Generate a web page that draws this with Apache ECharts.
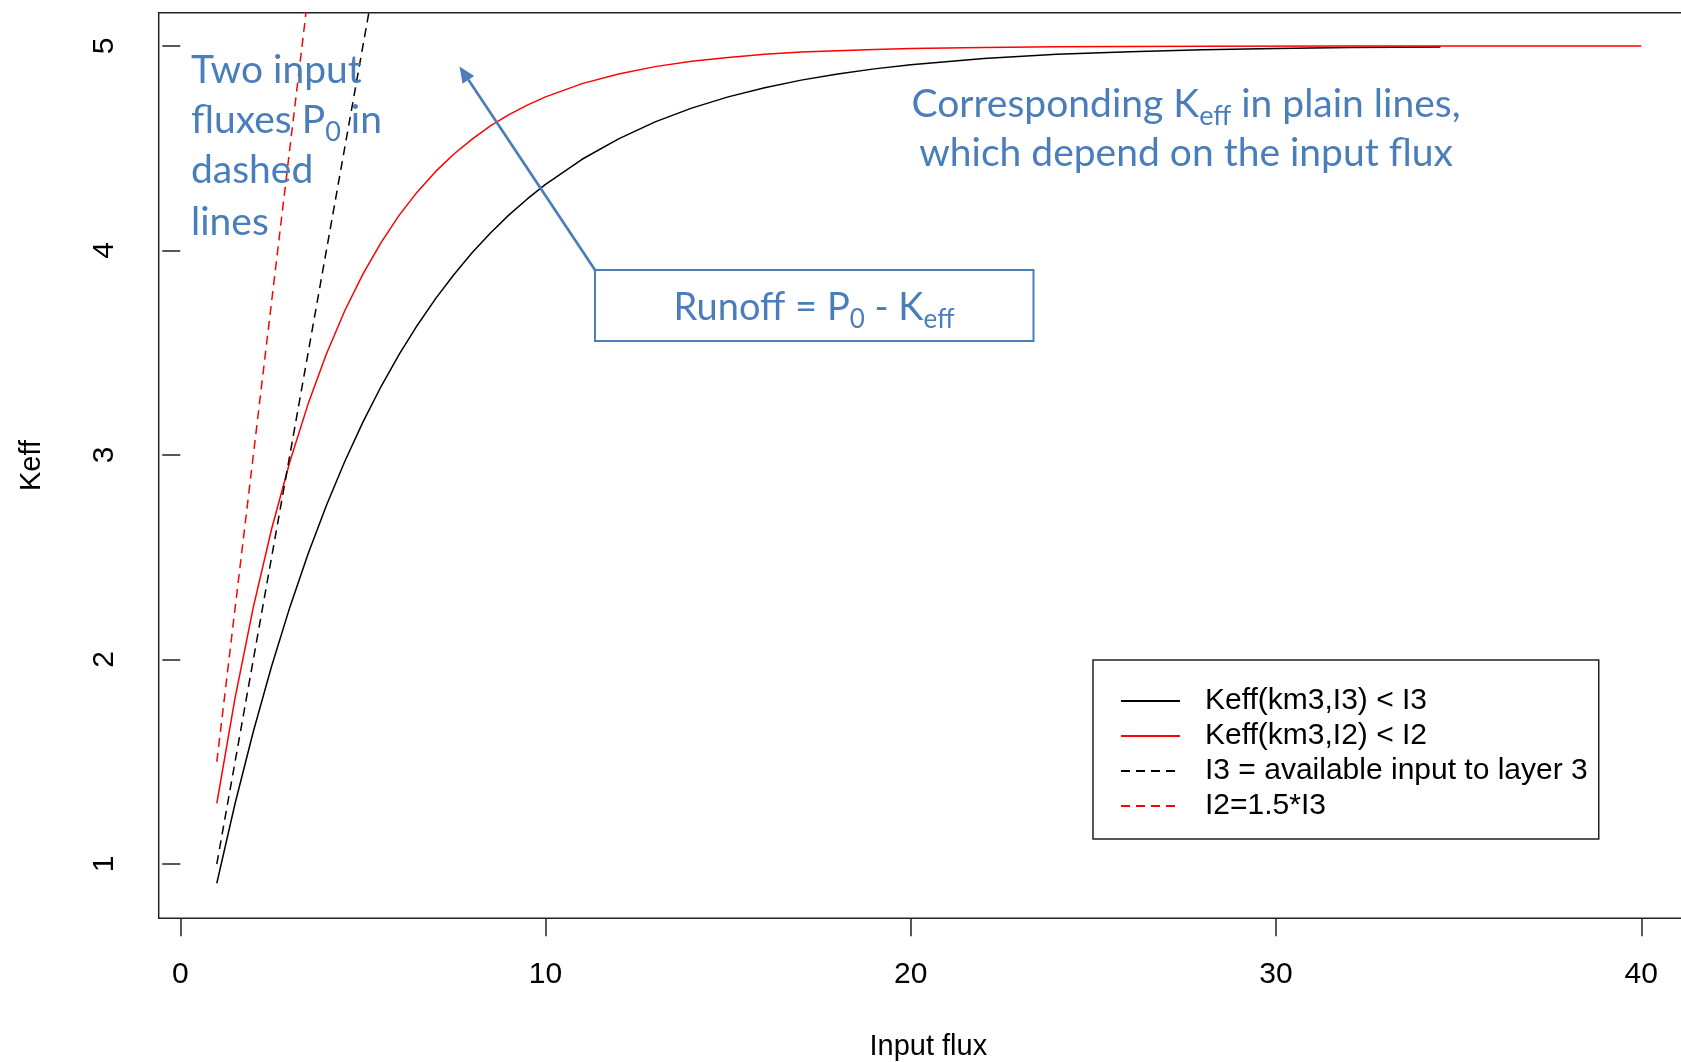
<!DOCTYPE html>
<html><head><meta charset="utf-8">
<script src="https://cdn.jsdelivr.net/npm/echarts@6/dist/echarts.min.js"></script>
<style>html,body{margin:0;padding:0;overflow:hidden;background:#fff}#c{width:1720px;height:1062px}</style>
</head><body><div id="c"></div>
<script>
// ---- data ----
const fluxK3 = [1, 1.5, 2, 2.5, 3, 3.5, 4, 4.5, 5, 5.5, 6, 6.5, 7, 7.5, 8, 8.5, 9, 9.5, 10, 11, 12, 13, 14, 15, 16, 17, 18, 19, 20, 22, 24, 26, 28, 30, 32, 34.5];
const keffK3 = [0.906, 1.296, 1.648, 1.967, 2.256, 2.517, 2.753, 2.967, 3.161, 3.336, 3.494, 3.637, 3.767, 3.884, 3.991, 4.087, 4.174, 4.252, 4.323, 4.446, 4.546, 4.629, 4.696, 4.751, 4.796, 4.833, 4.863, 4.888, 4.908, 4.939, 4.959, 4.972, 4.982, 4.988, 4.992, 4.995];
const fluxK2 = [1, 1.5, 2, 2.5, 3, 3.5, 4, 4.5, 5, 5.5, 6, 6.5, 7, 7.5, 8, 8.5, 9, 9.5, 10, 11, 12, 13, 14, 15, 16, 17, 18, 19, 20, 22, 24, 28, 32, 36, 40];
const keffK2 = [1.296, 1.812, 2.256, 2.638, 2.967, 3.250, 3.494, 3.704, 3.884, 4.040, 4.174, 4.289, 4.388, 4.473, 4.546, 4.610, 4.664, 4.711, 4.751, 4.816, 4.863, 4.899, 4.925, 4.944, 4.959, 4.970, 4.977, 4.983, 4.988, 4.993, 4.996, 4.999, 5.0, 5.0, 5.0];
const fluxI3 = [1, 2, 3, 4, 5, 6];
const inputI3 = [1.0, 2.0, 3.0, 4.0, 5.0, 6.0];
const fluxI2 = [1, 2, 3, 4];
const inputI2 = [1.5, 3.0, 4.5, 6.0];
const xTicks = [0, 10, 20, 30, 40];
const yTicks = [1, 2, 3, 4, 5];
const seriesNames = ['Keff(km3,I3) < I3', 'Keff(km3,I2) < I2', 'I3 = available input to layer 3', 'I2=1.5*I3'];

const zip = (xs, ys) => xs.map((v, i) => [v, ys[i]]);
const AX = 'Liberation Sans, Arial, sans-serif';
const BLUE = '#4a7ebb';
const TF = 'Lato, Calibri, sans-serif';

const chart = echarts.init(document.getElementById('c'), null, {renderer: 'canvas'});

function lineSeries(name, data, color, dashed) {
  return {
    name, type: 'line', data, symbol: 'none', showSymbol: false, smooth: false, clip: true,
    lineStyle: {color, width: 1.5, type: dashed ? [9, 6] : 'solid'},
    itemStyle: {color}, emphasis: {disabled: true}, animation: false
  };
}

const txt = (x, y, text, align, size) => {
  const fs = size || 39;
  return {
    type: 'text', x, y, z: 100,
    style: {text, fill: BLUE, fontSize: fs, fontFamily: TF,
      align: align || 'left', verticalAlign: 'middle',
      rich: {
        s: {fontSize: Math.round(fs * 0.68), fontFamily: TF, color: BLUE, padding: [Math.round(fs * 0.62), 0, 0, 0]},
        n: {fontSize: fs, fontFamily: TF, color: BLUE}
      }}
  };
};

const option = {
  animation: false,
  backgroundColor: '#fff',
  grid: {left: 158.7, top: 12.7, right: 22, bottom: 143.7, containLabel: false, outerBoundsMode: 'none',
    show: true, borderColor: '#222', borderWidth: 1.5, backgroundColor: 'transparent'},
  xAxis: {
    type: 'value', min: -0.591, max: 41.553,
    name: 'Input flux', nameLocation: 'middle', nameGap: 114,
    nameTextStyle: {fontSize: 29, fontFamily: AX, color: '#000'},
    axisLine: {show: false},
    splitLine: {show: false},
    axisTick: {show: true, length: 18, lineStyle: {color: '#222', width: 1.5}, customValues: xTicks},
    axisLabel: {fontSize: 30, fontFamily: AX, color: '#000', margin: 41, customValues: xTicks}
  },
  yAxis: {
    type: 'value', min: 0.7345, max: 5.1627,
    name: 'Keff', nameLocation: 'middle', nameGap: 112, nameRotate: 90,
    nameTextStyle: {fontSize: 29, fontFamily: AX, color: '#000'},
    axisLine: {show: false},
    splitLine: {show: false},
    axisTick: {show: true, length: 18, lineStyle: {color: '#222', width: 1.5}, customValues: yTicks},
    axisLabel: {fontSize: 30, fontFamily: AX, color: '#000', margin: 39, rotate: 90, customValues: yTicks}
  },
  legend: {
    data: seriesNames, orient: 'vertical', align: 'left', left: 1093, top: 660,
    padding: [26, 11, 18, 27], itemWidth: 59, itemHeight: 14, itemGap: 5,
    borderColor: '#222', borderWidth: 1.5, backgroundColor: '#fff',
    selectedMode: false,
    itemStyle: {color: 'rgba(0,0,0,0)', borderColor: 'rgba(0,0,0,0)', borderWidth: 0, opacity: 0},
    textStyle: {fontSize: 30, fontFamily: AX, color: '#000', padding: [0, 0, 0, 20]}
  },
  series: [
    lineSeries(seriesNames[0], zip(fluxK3, keffK3), '#000', false),
    lineSeries(seriesNames[1], zip(fluxK2, keffK2), '#ff0000', false),
    lineSeries(seriesNames[2], zip(fluxI3, inputI3), '#000', true),
    lineSeries(seriesNames[3], zip(fluxI2, inputI2), '#ff0000', true)
  ],
  graphic: [
    txt(191, 70.7, 'Two input'),
    txt(191, 120.7, '{n|fluxes P}{s|0}{n| in}'),
    txt(191, 170.7, 'dashed'),
    txt(191, 222.7, 'lines'),
    txt(1186, 104, '{n|Corresponding K}{s|eff}{n| in plain lines,}', 'center'),
    txt(1186, 153, 'which depend on the input flux', 'center'),
    {type: 'rect', z: 99, shape: {x: 595, y: 270, width: 438.5, height: 71}, style: {fill: 'rgba(255,255,255,0)', stroke: BLUE, lineWidth: 2}},
    txt(814, 307.7, '{n|Runoff = P}{s|0}{n| - K}{s|eff}', 'center', 38),
    {type: 'line', z: 100, shape: {x1: 595, y1: 270, x2: 468.4, y2: 79.8}, style: {stroke: BLUE, lineWidth: 2.7}},
    {type: 'polygon', z: 100, shape: {points: [[459.5, 66.5], [474.2, 75.9], [462.6, 83.7]]}, style: {fill: BLUE}}
  ]
};
chart.setOption(option);
</script></body></html>
